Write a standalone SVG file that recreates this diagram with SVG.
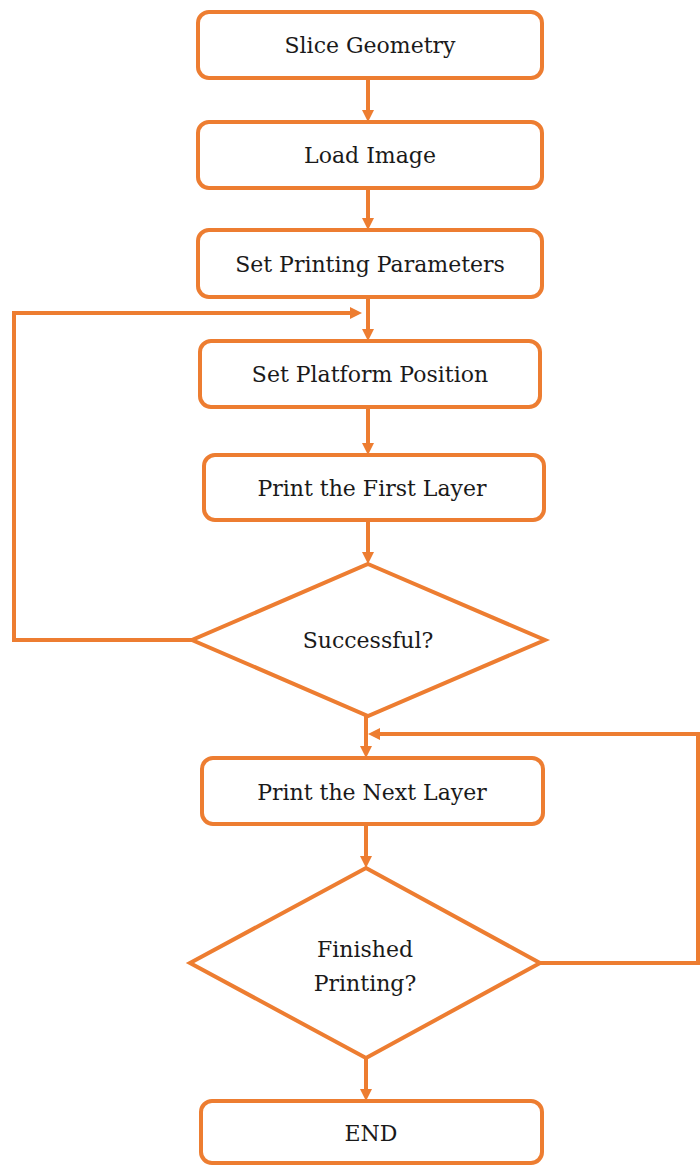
<svg xmlns="http://www.w3.org/2000/svg" width="700" height="1166" viewBox="0 0 700 1166">
<style>
.box{fill:#fff;stroke:#ED7D31;stroke-width:4}
.lbl{font-family:"DejaVu Serif","Liberation Serif",serif;font-size:22px;fill:#1a1a1a;text-anchor:middle}
.con{fill:none;stroke:#ED7D31;stroke-width:4}
</style>
<defs>
<marker id="ah" viewBox="0 0 12 12" refX="6" refY="6" markerWidth="12" markerHeight="12" markerUnits="userSpaceOnUse" orient="auto">
<path d="M0,0 L12,6 L0,12 z" fill="#ED7D31"/>
</marker>
</defs>
<rect width="700" height="1166" fill="#fff"/>
<g id="connectors">
<line class="con" x1="368" y1="78" x2="368" y2="116" marker-end="url(#ah)"/>
<line class="con" x1="368" y1="188" x2="368" y2="224" marker-end="url(#ah)"/>
<line class="con" x1="368" y1="297" x2="368" y2="335" marker-end="url(#ah)"/>
<polyline class="con" points="192,640 14,640 14,313 356,313" marker-end="url(#ah)"/>
<line class="con" x1="368" y1="407" x2="368" y2="449" marker-end="url(#ah)"/>
<line class="con" x1="368" y1="520" x2="368" y2="558" marker-end="url(#ah)"/>
<line class="con" x1="366" y1="716" x2="366" y2="752" marker-end="url(#ah)"/>
<polyline class="con" points="540,963 698,963 698,734 374,734" marker-end="url(#ah)"/>
<line class="con" x1="366" y1="824" x2="366" y2="862" marker-end="url(#ah)"/>
<line class="con" x1="366" y1="1058" x2="366" y2="1095" marker-end="url(#ah)"/>
</g>
<g id="n1"><rect class="box" x="198" y="12" width="344" height="66" rx="11"/><text class="lbl" x="370" y="53">Slice Geometry</text></g>
<g id="n2"><rect class="box" x="198" y="122" width="344" height="66" rx="11"/><text class="lbl" x="370" y="163">Load Image</text></g>
<g id="n3"><rect class="box" x="198" y="230" width="344" height="67" rx="11"/><text class="lbl" x="370" y="272">Set Printing Parameters</text></g>
<g id="n4"><rect class="box" x="200" y="341" width="340" height="66" rx="11"/><text class="lbl" x="370" y="382">Set Platform Position</text></g>
<g id="n5"><rect class="box" x="204" y="455" width="340" height="65" rx="11"/><text class="lbl" x="372" y="496">Print the First Layer</text></g>
<g id="n6"><polygon class="box" points="368,564 545,640 368,716 192,640"/><text class="lbl" x="368" y="648">Successful?</text></g>
<g id="n7"><rect class="box" x="202" y="758" width="341" height="66" rx="11"/><text class="lbl" x="372" y="800">Print the Next Layer</text></g>
<g id="n8"><polygon class="box" points="366,868 540,963 366,1058 190,963"/><text class="lbl" x="365" y="957">Finished</text><text class="lbl" x="365" y="991">Printing?</text></g>
<g id="n9"><rect class="box" x="201" y="1101" width="341" height="62" rx="11"/><text class="lbl" x="371" y="1141">END</text></g>
</svg>
